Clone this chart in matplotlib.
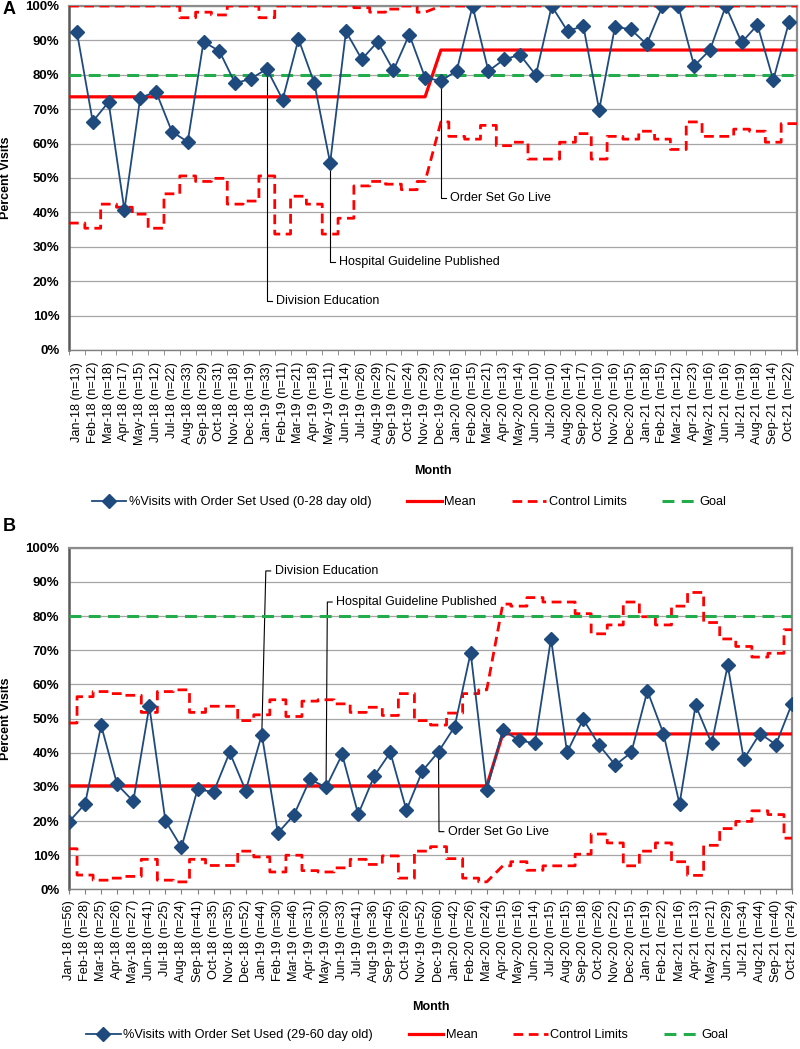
import matplotlib.pyplot as plt

plt.rcParams['font.family'] = ['Liberation Sans', 'DejaVu Sans']

months = ["Jan-18", "Feb-18", "Mar-18", "Apr-18", "May-18", "Jun-18", "Jul-18", "Aug-18",
          "Sep-18", "Oct-18", "Nov-18", "Dec-18", "Jan-19", "Feb-19", "Mar-19", "Apr-19",
          "May-19", "Jun-19", "Jul-19", "Aug-19", "Sep-19", "Oct-19", "Nov-19", "Dec-19",
          "Jan-20", "Feb-20", "Mar-20", "Apr-20", "May-20", "Jun-20", "Jul-20", "Aug-20",
          "Sep-20", "Oct-20", "Nov-20", "Dec-20", "Jan-21", "Feb-21", "Mar-21", "Apr-21",
          "May-21", "Jun-21", "Jul-21", "Aug-21", "Sep-21", "Oct-21"]

# panel A: 0-28 day old
n_a = [13, 12, 18, 17, 15, 12, 22, 33, 29, 31, 18, 19, 33, 11, 21, 18, 11, 14, 26, 29, 27, 24, 29,
       23, 16, 15, 21, 13, 14, 10, 10, 14, 17, 10, 16, 15, 18, 15, 12, 23, 16, 16, 19, 18, 14, 22]
pct_a = [92.4, 66.4, 72.1, 40.7, 73.3, 75.1, 63.5, 60.5, 89.6, 86.9, 77.5, 78.9, 81.7, 72.8, 90.4,
         77.6, 54.4, 92.6, 84.5, 89.6, 81.3, 91.7, 79.2, 78.2, 81.2, 100, 81.1, 84.5, 85.8, 79.9,
         100, 92.7, 94.2, 69.8, 94.0, 93.2, 88.9, 100, 100, 82.6, 87.2, 100, 89.4, 94.5, 78.5, 95.4]
mean_a = [73.6, 87.2]
split_a = 23
ucl_a = [100, 100, 100, 100, 100, 100, 100, 96.6, 98.2, 97.4, 100, 100, 96.6, 100, 100, 100,
         100, 100, 99.5, 98.2, 99.1, 100, 98.2,
         100, 100, 100, 100, 100, 100, 100, 100, 100, 100, 100, 100, 100, 100, 100, 100, 100,
         100, 100, 100, 100, 100, 100]
lcl_a = [36.9, 35.4, 42.4, 41.5, 39.5, 35.4, 45.4, 50.6, 49.0, 49.9, 42.4, 43.3, 50.6, 33.7, 44.7,
         42.4, 33.7, 38.3, 47.7, 49.0, 48.2, 46.6, 49.0,
         66.3, 62.1, 61.3, 65.3, 59.4, 60.4, 55.5, 55.5, 60.4, 62.9, 55.5, 62.1, 61.3, 63.6, 61.3,
         58.3, 66.3, 62.1, 62.1, 64.2, 63.6, 60.4, 65.8]

# panel B: 29-60 day old
n_b = [56, 28, 25, 26, 27, 41, 25, 24, 41, 35, 35, 52, 44, 30, 46, 31, 30, 33, 41, 36, 45, 26, 52,
       60, 42, 26, 24, 15, 16, 14, 15, 15, 18, 26, 22, 15, 19, 22, 16, 13, 21, 29, 34, 44, 40, 24]
pct_b = [19.8, 25.0, 48.0, 30.7, 25.8, 53.6, 20.1, 12.3, 29.3, 28.5, 40.1, 28.9, 45.3, 16.5, 21.8,
         32.2, 29.9, 39.5, 22.0, 33.2, 40.1, 23.2, 34.7, 40.3, 47.6, 69.3, 29.1, 46.6, 43.7, 42.7,
         73.4, 40.1, 49.8, 42.2, 36.4, 40.1, 58.1, 45.6, 25.0, 53.9, 42.7, 65.6, 38.1, 45.6, 42.4,
         54.4]
mean_b = [30.3, 45.5]
split_b = 27
ucl_b = [48.7, 56.4, 57.9, 57.3, 56.8, 51.8, 57.9, 58.4, 51.8, 53.6, 53.6, 49.4, 51.1, 55.5, 50.6,
         55.1, 55.5, 54.3, 51.8, 53.3, 50.9, 57.3, 49.4, 48.1, 51.6, 57.3, 58.4,
         83.5, 82.9, 85.4, 84.1, 84.1, 80.7, 74.8, 77.4, 84.1, 79.8, 77.4, 82.9, 86.9, 78.1, 73.3,
         71.1, 68.0, 69.1, 76.0]
lcl_b = [11.9, 4.2, 2.7, 3.3, 3.8, 8.8, 2.7, 2.2, 8.8, 7.0, 7.0, 11.2, 9.5, 5.1, 10.0, 5.5, 5.1,
         6.3, 8.8, 7.3, 9.8, 3.3, 11.2, 12.5, 9.0, 3.3, 2.2,
         6.9, 8.1, 5.6, 6.9, 6.9, 10.3, 16.2, 13.6, 6.9, 11.2, 13.6, 8.1, 4.1, 12.9, 17.8, 19.9,
         23.0, 21.9, 15.0]

goal = 80
event_labels = ["Division Education", "Hospital Guideline Published", "Order Set Go Live"]
event_months = ["Jan-19", "May-19", "Dec-19"]

NAVY = '#1F4A7E'
RED = '#FF0000'
GREEN = '#22AC4A'


def phase_path(values, split, x0, x1):
    # steps inside each phase, straight slope across the phase change
    xs, ys = [], []
    for a, b, start, end in [(0, split, x0, split - 1), (split, len(values), split, x1)]:
        xs.append(start)
        ys.append(values[a])
        for i in range(a, b - 1):
            xs += [i + 0.5, i + 0.5]
            ys += [values[i], values[i + 1]]
        xs.append(end)
        ys.append(values[b - 1])
    return xs, ys


def draw_panel(ax, pct, n, mean, split, ucl, lcl, x0, x1, label_y, label_dx, boundary_ticks):
    x = list(range(len(pct)))
    mean_vals = [mean[0]] * split + [mean[1]] * (len(pct) - split)

    h_data, = ax.plot(x, pct, color=NAVY, lw=1.3, marker='D', ms=7, zorder=5)
    mx, my = phase_path(mean_vals, split, x0, x1)
    h_mean, = ax.plot(mx, my, color=RED, lw=2.3, zorder=3)
    ux, uy = phase_path(ucl, split, x0, x1)
    h_cl, = ax.plot(ux, uy, color=RED, lw=2.0, dashes=(3.5, 2.0), zorder=3)
    lx, ly = phase_path(lcl, split, x0, x1)
    ax.plot(lx, ly, color=RED, lw=2.0, dashes=(3.5, 2.0), zorder=3)
    h_goal, = ax.plot([x0, x1], [goal, goal], color=GREEN, lw=2.2, dashes=(3.9, 2.4), zorder=4)

    for lab, m, yl, dx in zip(event_labels, event_months, label_y, label_dx):
        i = months.index(m)
        ax.plot([i, i + dx, i + dx + 0.3], [pct[i], yl, yl], color='black', lw=0.8, zorder=2)
        ax.text(i + dx + 0.55, yl, lab, fontsize=9, va='center', ha='left', zorder=6)

    ax.set_xlim(x0, x1)
    ax.set_ylim(0, 100)
    ax.set_yticks(range(0, 101, 10))
    ax.set_yticklabels([f"{v}%" for v in range(0, 101, 10)], fontweight='bold', fontsize=9.5)
    ax.tick_params(axis='y', length=0, pad=7)
    ax.set_xticks(x)
    ax.set_xticklabels([f"{m} (n={k})" for m, k in zip(months, n)], rotation=90, fontsize=9.2)
    if boundary_ticks:
        ax.set_xticks([i - 0.5 for i in range(len(pct) + 1)], minor=True)
        ax.tick_params(axis='x', which='major', length=0, pad=8.5)
        ax.tick_params(axis='x', which='minor', length=3.5, color='#808080')
    else:
        ax.tick_params(axis='x', length=3.5, pad=4, color='#808080')
    ax.grid(axis='y', color='#A6A6A6', lw=0.9)
    ax.set_axisbelow(True)
    ax.spines['left'].set_color('#595959')
    ax.spines['left'].set_linewidth(1.8)
    ax.spines['bottom'].set_color('#808080')
    ax.spines['bottom'].set_linewidth(1.0)
    for s in ['top', 'right']:
        ax.spines[s].set_color('#8C8C8C')
        ax.spines[s].set_linewidth(1.6)
    ax.set_ylabel('Percent Visits', fontweight='bold', fontsize=9)
    return [h_data, h_mean, h_cl, h_goal]


fig = plt.figure(figsize=(8, 10.49), dpi=100)
W, H = 800, 1049

ax_a = fig.add_axes([69 / W, 1 - 350 / H, 728 / W, 344 / H])
hs = draw_panel(ax_a, pct_a, n_a, mean_a, split_a, ucl_a, lcl_a, -0.5, 45.5,
                [14.2, 25.6, 44.2], [0, 0, 0], True)
ax_a.yaxis.set_label_coords((12.5 - 69) / 728, 0.5)
fig.text(433 / W, 1 - 471 / H, 'Month', ha='center', va='center', fontweight='bold', fontsize=9)
fig.legend(hs, ['%Visits with Order Set Used (0-28 day old)', 'Mean', 'Control Limits', 'Goal'],
           loc='center', bbox_to_anchor=(409 / W, 1 - 502 / H), ncol=4, frameon=False,
           fontsize=9.2, handlelength=2.7, handletextpad=0.2, columnspacing=2.8)
fig.text(3 / W, 1 - 10 / H, 'A', ha='left', va='center', fontweight='bold', fontsize=13)

ax_b = fig.add_axes([69 / W, 1 - 889.4 / H, 723 / W, 341.7 / H])
hs = draw_panel(ax_b, pct_b, n_b, mean_b, split_b, ucl_b, lcl_b, 0, 45,
                [93.2, 84.1, 16.9], [0.25, 0.08, 0.03], False)
ax_b.yaxis.set_label_coords((12.5 - 69) / 723, 0.5)
fig.text(430.5 / W, 1 - 1007 / H, 'Month', ha='center', va='center', fontweight='bold', fontsize=9)
fig.legend(hs, ['%Visits with Order Set Used (29-60 day old)', 'Mean', 'Control Limits', 'Goal'],
           loc='center', bbox_to_anchor=(407 / W, 1 - 1035 / H), ncol=4, frameon=False,
           fontsize=9.2, handlelength=2.7, handletextpad=0.2, columnspacing=2.8)
fig.text(3 / W, 1 - 526.5 / H, 'B', ha='left', va='center', fontweight='bold', fontsize=13)

fig.savefig('out.png', dpi=100)
